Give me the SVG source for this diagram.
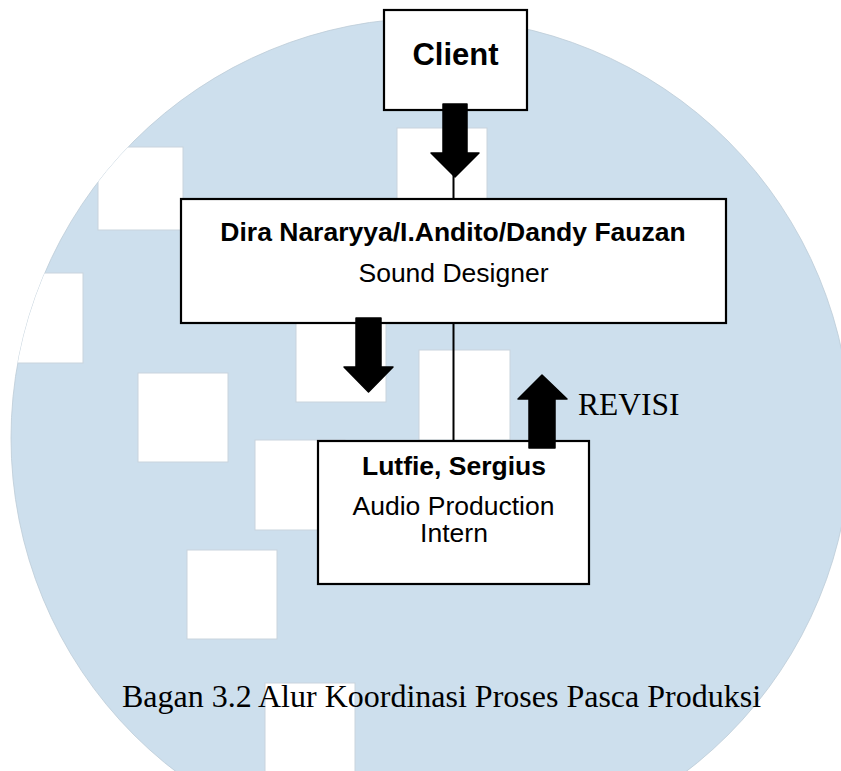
<svg xmlns="http://www.w3.org/2000/svg" width="841" height="771" viewBox="0 0 841 771">
<style>
.box{fill:#fff;stroke:#000;stroke-width:2.2}
.sq{fill:#fff;stroke:#c9d4dd;stroke-width:1}
.arr{fill:#000;stroke:#000;stroke-width:1.5;stroke-linejoin:round}
.ln{stroke:#000;stroke-width:2;fill:none}
.b{font-family:"Liberation Sans",Arial,sans-serif;font-weight:bold;fill:#000;text-anchor:middle}
.r{font-family:"Liberation Sans",Arial,sans-serif;fill:#000;text-anchor:middle}
.t{font-family:"Liberation Serif","Times New Roman",serif;fill:#000}
</style>
<defs>
<clipPath id="cc"><circle cx="431" cy="438" r="420"/></clipPath>
</defs>
<rect width="841" height="771" fill="#fff"/>
<g id="watermark">
<circle cx="431" cy="438" r="420" fill="#cddfed" stroke="#bccbd7" stroke-width="0.8"/>
<g clip-path="url(#cc)">
<rect class="sq" x="98" y="147" width="85" height="83"/>
<rect class="sq" x="-7" y="273" width="90" height="90"/>
<rect class="sq" x="138" y="373" width="90" height="89"/>
<rect class="sq" x="397" y="128" width="90" height="90"/>
<rect class="sq" x="296" y="312" width="90" height="90"/>
<rect class="sq" x="419" y="350" width="91" height="90"/>
<rect class="sq" x="255" y="440" width="90" height="90"/>
<rect class="sq" x="187" y="550" width="90" height="89"/>
<rect class="sq" x="265" y="683" width="90" height="92"/>
</g>
</g>
<g id="connectors">
<line class="ln" x1="453.5" y1="170" x2="453.5" y2="199"/>
<line class="ln" x1="453.5" y1="323" x2="453.5" y2="441"/>
</g>
<g id="client">
<rect class="box" x="384" y="10" width="143" height="100"/>
<text class="b" x="455.5" y="65" font-size="31">Client</text>
</g>
<g id="sound-designer">
<rect class="box" x="181" y="199" width="545" height="124"/>
<text class="b" x="453" y="241" font-size="26.5">Dira Nararyya/I.Andito/Dandy Fauzan</text>
<text class="r" x="453.5" y="282" font-size="26.5">Sound Designer</text>
</g>
<g id="intern">
<rect class="box" x="318" y="441" width="271" height="143"/>
<text class="b" x="454" y="475" font-size="26.5">Lutfie, Sergius</text>
<text class="r" x="453.5" y="515" font-size="26.5">Audio Production</text>
<text class="r" x="454" y="542" font-size="26.5">Intern</text>
</g>
<g id="arrows">
<path class="arr" d="M443,104 H467 V153 H479 L455,177 L431,153 H443 Z"/>
<path class="arr" d="M356,318 H381 V367 H393 L368.5,392 L344,367 H356 Z"/>
<path class="arr" d="M529,448 H555 V399 H567 L542,375 L518,399 H529 Z"/>
</g>
<g id="revisi-label">
<text class="t" x="578" y="415" font-size="31.5">REVISI</text>
</g>
<g id="caption">
<text class="t" x="122" y="707" font-size="32">Bagan 3.2 Alur Koordinasi Proses Pasca Produksi</text>
</g>
</svg>
